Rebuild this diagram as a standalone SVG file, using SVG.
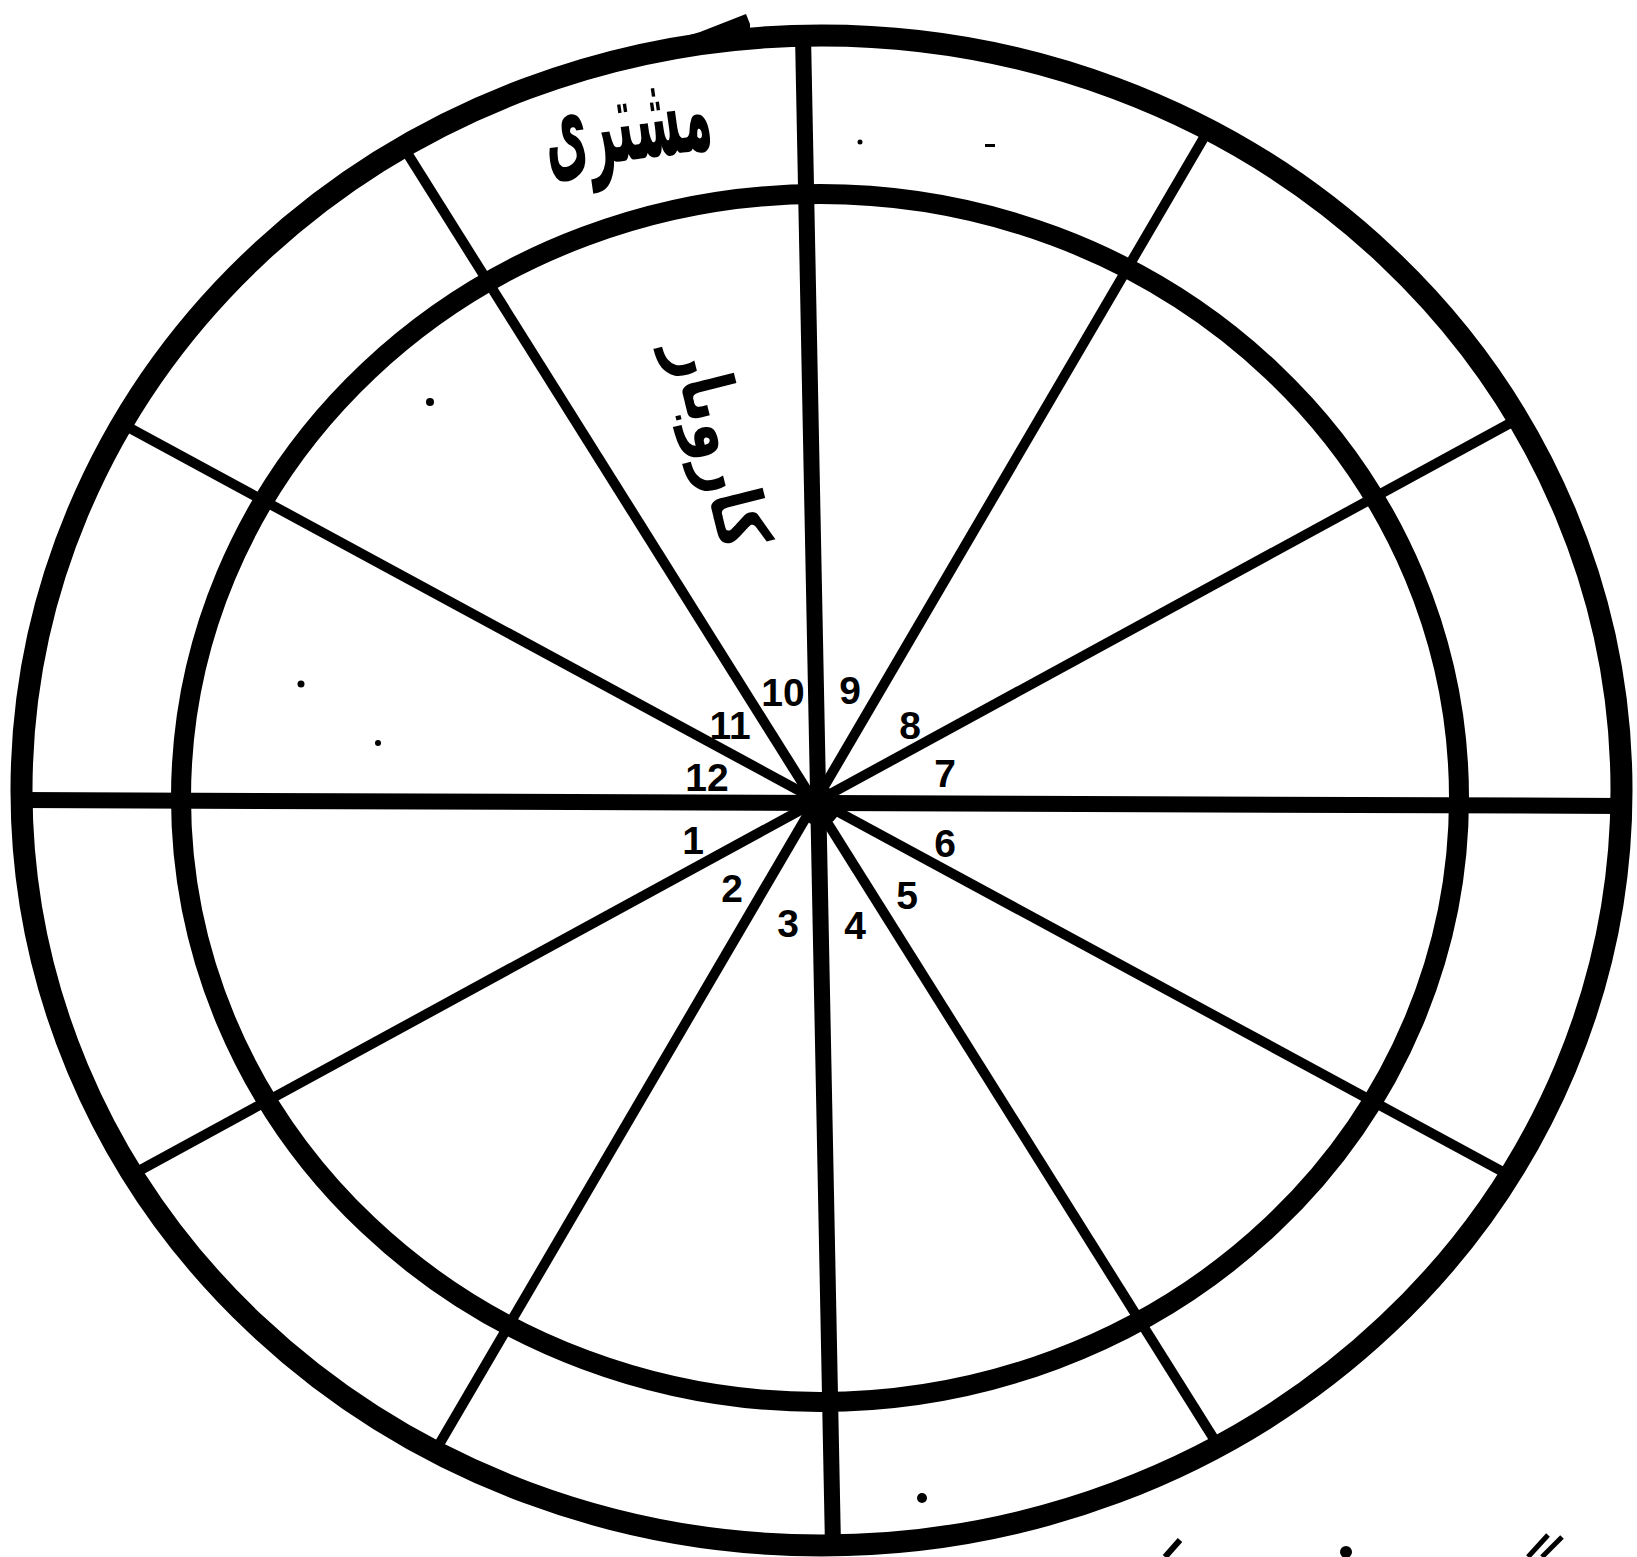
<svg xmlns="http://www.w3.org/2000/svg" width="1637" height="1557" viewBox="0 0 1637 1557">
<style>
.ring{fill:none;stroke:#000}
.spoke{stroke:#000;stroke-width:10;stroke-linecap:butt}
.axis{stroke:#000;stroke-width:16}
.num{font-family:"Liberation Sans",Arial,sans-serif;font-weight:bold;font-size:39px;text-anchor:middle;fill:#000}
.ur{font-family:"DejaVu Sans",sans-serif;font-weight:bold;fill:#000;text-anchor:middle}
.dot{fill:#000}
</style>
<defs>
<clipPath id="inside"><ellipse cx="821.5" cy="790.5" rx="800" ry="755"/></clipPath>
</defs>
<rect width="1637" height="1557" fill="#fff"/>
<g id="outer-ring"><ellipse class="ring" cx="821.5" cy="790.5" rx="800" ry="755" stroke-width="22"/></g>
<g id="inner-ring"><ellipse class="ring" cx="820" cy="798" rx="639" ry="604" stroke-width="20"/></g>
<g id="connectors" clip-path="url(#inside)">
<line class="axis" x1="0" y1="800" x2="1637" y2="806"/>
<line class="axis" x1="802.3" y1="0" x2="833.2" y2="1557"/>
<line class="spoke" x1="377" y1="105" x2="1246" y2="1490"/>
<line class="spoke" x1="1223" y1="105" x2="413" y2="1489"/>
<line class="spoke" x1="76" y1="399" x2="1553" y2="1199"/>
<line class="spoke" x1="1549" y1="402" x2="102" y2="1191"/>
<circle cx="820" cy="806" r="20" fill="#000"/>
</g>
<g id="house-numbers">
<text class="num" x="783" y="706">10</text>
<text class="num" x="850" y="704">9</text>
<text class="num" x="910" y="739">8</text>
<text class="num" x="730" y="739">11</text>
<text class="num" x="707" y="791">12</text>
<text class="num" x="945" y="787">7</text>
<text class="num" x="693" y="854">1</text>
<text class="num" x="945" y="857">6</text>
<text class="num" x="732" y="902">2</text>
<text class="num" x="907" y="909">5</text>
<text class="num" x="788" y="937">3</text>
<text class="num" x="855" y="939">4</text>
</g>
<g id="label-jupiter"><text class="ur" x="629" y="160" font-size="116" textLength="168" lengthAdjust="spacingAndGlyphs" transform="rotate(-8 629 140)">مشتری</text></g>
<g id="label-business"><text class="ur" x="720" y="468" font-size="72" textLength="212" lengthAdjust="spacingAndGlyphs" transform="rotate(76 720 444)">کاروبار</text></g>
<g id="specks">
<circle class="dot" cx="430" cy="402" r="4"/>
<circle class="dot" cx="301" cy="684" r="3.5"/>
<circle class="dot" cx="378" cy="743" r="3"/>
<circle class="dot" cx="922" cy="1498" r="5"/>
<circle class="dot" cx="860" cy="142" r="2.5"/>
<rect class="dot" x="985" y="144" width="10" height="3"/>
<path class="dot" d="M640,50 L700,32 L746,14 L750,24 L750,42 L700,46 Z"/>
<circle class="dot" cx="1346" cy="1552" r="6"/>
<line x1="1528" y1="1557" x2="1548" y2="1535" stroke="#000" stroke-width="5"/>
<line x1="1542" y1="1557" x2="1562" y2="1537" stroke="#000" stroke-width="5"/>
<line x1="1165" y1="1557" x2="1180" y2="1540" stroke="#000" stroke-width="6"/>
</g>
</svg>
